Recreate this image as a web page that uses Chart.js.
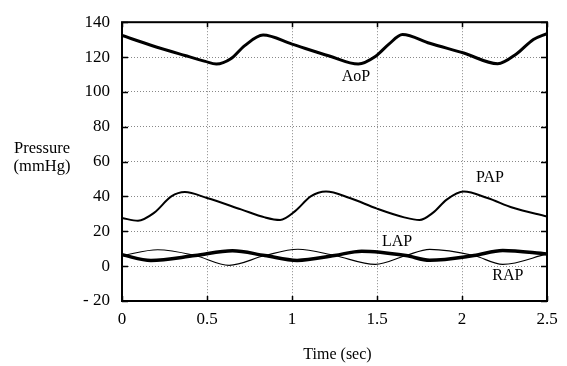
<!DOCTYPE html>
<html>
<head>
<meta charset="utf-8">
<script src="https://cdn.jsdelivr.net/npm/chart.js@4/dist/chart.umd.min.js"></script>
<style>
  html, body { margin: 0; padding: 0; background: #fff; }
  #wrap { width: 567px; height: 366px; }
</style>
</head>
<body>
<div id="wrap"><canvas id="chart" width="567" height="366"></canvas></div>
<script>
// time axis ticks (sec) and pressure ticks (mmHg)
const timeTicks = [0, 0.5, 1, 1.5, 2, 2.5];
const pressureTicks = [-20, 0, 20, 40, 60, 80, 100, 120, 140];

// aortic pressure
const aopTime = [0, 0.17, 0.37, 0.49, 0.555, 0.64, 0.72, 0.83, 1.0, 1.22, 1.39, 1.49, 1.57, 1.65, 1.81, 2.01, 2.21, 2.32, 2.42, 2.5];
const aopValue = [132.4, 126.8, 120.9, 117.5, 116, 119, 126.4, 132.6, 127.4, 120.6, 116, 120.3, 127.4, 132.9, 127.9, 122.3, 116.2, 121.8, 130.1, 133.5];

// pulmonary artery pressure
const papTime = [0, 0.094, 0.19, 0.29, 0.37, 0.5, 0.7, 0.84, 0.93, 1.02, 1.11, 1.2, 1.34, 1.5, 1.66, 1.75, 1.83, 1.91, 2.01, 2.15, 2.3, 2.5];
const papValue = [27.6, 26.1, 30.7, 40, 42.5, 39.1, 32.6, 28, 26.5, 31.7, 40, 42.8, 39.1, 33, 28, 26.5, 30.7, 38.2, 42.8, 39.1, 33.5, 28.5];

// left atrial pressure (thick line)
const lapTime = [0, 0.17, 0.43, 0.65, 0.84, 1.03, 1.25, 1.41, 1.67, 1.81, 2.07, 2.24, 2.5];
const lapValue = [6.5, 3.3, 6.1, 8.8, 6.1, 3.3, 6.1, 8.6, 6.1, 3.4, 6.1, 9, 7];

// right atrial pressure (thin line)
const rapTime = [0, 0.21, 0.43, 0.63, 0.84, 1.035, 1.25, 1.49, 1.67, 1.81, 2.07, 2.24, 2.5];
const rapValue = [6.0, 9.4, 6.1, 0.5, 6.1, 9.7, 6.1, 1.0, 6.1, 9.6, 6.1, 1.0, 7];

// curve labels placed in data coordinates
const curveLabels = [
    { text: 'AoP', t: 1.376, p: 108.8 },
    { text: 'PAP', t: 2.165, p: 50.8 },
    { text: 'LAP', t: 1.618, p: 14 },
    { text: 'RAP', t: 2.27, p: -5.5 }
];

const serif = '"Liberation Serif", "DejaVu Serif", serif';

function toPoints(times, values) {
    return times.map((t, i) => ({ x: t, y: values[i] }));
}

function lineSet(label, times, values, width) {
    return {
        label: label,
        data: toPoints(times, values),
        borderColor: '#000',
        borderWidth: width,
        pointRadius: 0,
        fill: false,
        cubicInterpolationMode: 'monotone'
    };
}

// frame, inward ticks and text drawn on top
const overlay = {
    id: 'overlay',
    afterDatasetsDraw(chart) {
        const ctx = chart.ctx;
        const area = chart.chartArea;
        const xs = chart.scales.x;
        const ys = chart.scales.y;
        ctx.save();
        ctx.strokeStyle = '#000';
        ctx.lineWidth = 2;
        ctx.strokeRect(area.left, area.top, area.right - area.left, area.bottom - area.top);

        ctx.lineWidth = 1.5;
        ctx.beginPath();
        pressureTicks.forEach(v => {
            const y = Math.round(ys.getPixelForValue(v)) + 0.5;
            ctx.moveTo(area.left, y); ctx.lineTo(area.left + 6, y);
            ctx.moveTo(area.right, y); ctx.lineTo(area.right - 6, y);
        });
        timeTicks.forEach(t => {
            const x = Math.round(xs.getPixelForValue(t)) + 0.5;
            ctx.moveTo(x, area.bottom); ctx.lineTo(x, area.bottom - 5);
            ctx.moveTo(x, area.top); ctx.lineTo(x, area.top + 5);
        });
        ctx.stroke();

        ctx.fillStyle = '#000';
        ctx.textAlign = 'center';
        ctx.textBaseline = 'middle';
        ctx.font = '16px ' + serif;
        curveLabels.forEach(l => {
            ctx.fillText(l.text, xs.getPixelForValue(l.t), ys.getPixelForValue(l.p));
        });

        ctx.font = '16.5px ' + serif;
        ctx.fillText('Pressure', area.left - 80, ys.getPixelForValue(62) - 9);
        ctx.fillText('(mmHg)', area.left - 80, ys.getPixelForValue(62) + 9);
        ctx.font = '16px ' + serif;
        ctx.fillText('Time (sec)', (area.left + area.right) / 2 + 3, area.bottom + 54);
        ctx.restore();
    }
};

new Chart(document.getElementById('chart').getContext('2d'), {
    type: 'line',
    data: {
        datasets: [
            lineSet('AoP', aopTime, aopValue, 3),
            lineSet('PAP', papTime, papValue, 2),
            lineSet('LAP', lapTime, lapValue, 3.5),
            lineSet('RAP', rapTime, rapValue, 1.2)
        ]
    },
    options: {
        responsive: false,
        animation: false,
        layout: { padding: { left: 0, right: 20, top: 14, bottom: 0 } },
        plugins: {
            legend: { display: false },
            tooltip: { enabled: false }
        },
        scales: {
            x: {
                type: 'linear',
                min: 0,
                max: 2.5,
                afterBuildTicks: scale => { scale.ticks = timeTicks.map(v => ({ value: v })); },
                afterFit: scale => { scale.height = 65; },
                grid: { color: '#888', lineWidth: 1, drawTicks: false },
                border: { display: false, dash: [1, 2] },
                ticks: {
                    color: '#000',
                    padding: 8,
                    font: { family: serif, size: 17 },
                    callback: v => String(v)
                }
            },
            y: {
                min: -20,
                max: 140,
                afterBuildTicks: scale => { scale.ticks = pressureTicks.map(v => ({ value: v })); },
                afterFit: scale => { scale.width = 122; },
                grid: { color: '#888', lineWidth: 1, drawTicks: false },
                border: { display: false, dash: [1, 2] },
                ticks: {
                    color: '#000',
                    padding: 12,
                    font: { family: serif, size: 17 },
                    callback: v => (v < 0 ? '- ' + Math.abs(v) : String(v))
                }
            }
        }
    },
    plugins: [overlay]
});
</script>
</body>
</html>
